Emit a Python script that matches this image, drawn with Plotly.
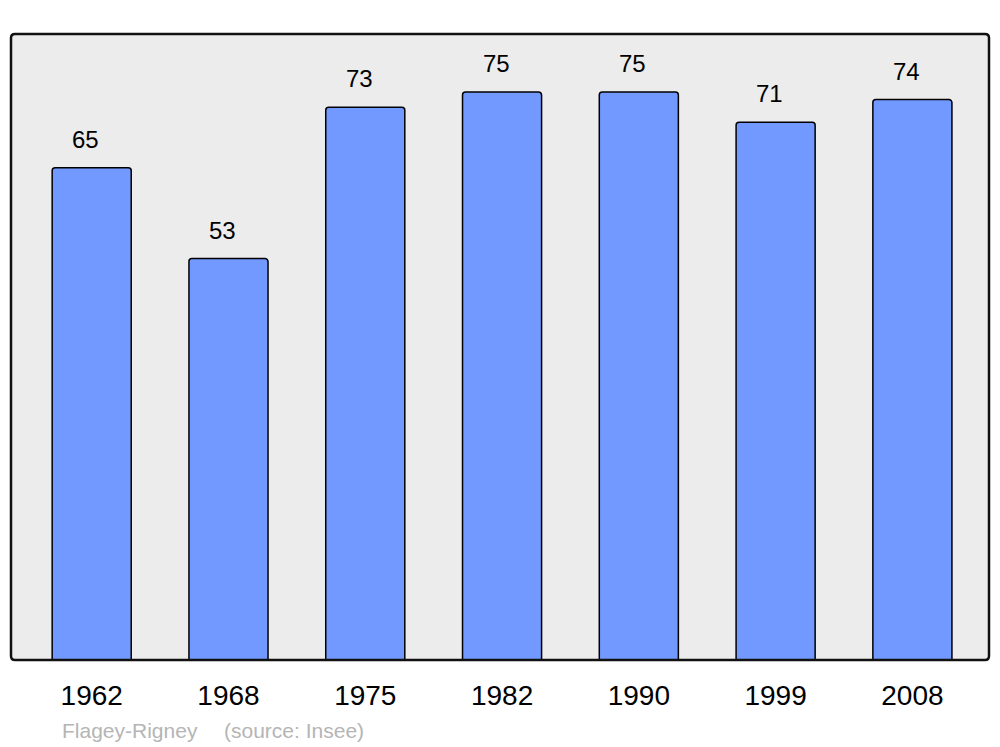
import plotly.graph_objects as go

# Population data (Insee)
annees = ["1962", "1968", "1975", "1982", "1990", "1999", "2008"]
population = [65, 53, 73, 75, 75, 71, 74]

x_pos = list(range(len(annees)))

# page body has an 8px margin, so the figure is sized/offset to compensate
W, H = 992, 739
ML, MR, MT, MB = 3, 11, 26, 87
plot_w = W - ML - MR
plot_h = H - MT - MB

fig = go.Figure()
fig.add_trace(go.Bar(
    x=x_pos,
    y=population,
    width=0.578,
    marker=dict(color="#7299ff", line=dict(color="#000000", width=1.5), cornerradius=3),
    hoverinfo="skip",
))

# Value labels above bars (slightly left of the bar centre, as in the original)
for xi, val in zip(x_pos, population):
    fig.add_annotation(x=xi, y=val, text=str(val), showarrow=False,
                       yanchor="bottom", yshift=13, xshift=-6,
                       font=dict(family="Liberation Sans, Arial", size=24, color="#000000"))

# Plot border with rounded corners
rx, ry = 4 / plot_w, 4 / plot_h
border = (f"M {rx},0 L {1 - rx},0 Q 1,0 1,{ry} L 1,{1 - ry} Q 1,1 {1 - rx},1 "
          f"L {rx},1 Q 0,1 0,{1 - ry} L 0,{ry} Q 0,0 {rx},0 Z")
fig.add_shape(type="path", xref="paper", yref="paper", path=border,
              line=dict(color="#111111", width=2.5), layer="above")

# Footer
fig.add_annotation(xref="paper", yref="paper", x=(60 - 11) / plot_w, y=-70 / plot_h,
                   text="Flagey-Rigney", showarrow=False, xanchor="left", yanchor="middle",
                   font=dict(family="Liberation Sans, Arial", size=21, color="#b5b5b5"))
fig.add_annotation(xref="paper", yref="paper", x=(222 - 11) / plot_w, y=-70 / plot_h,
                   text="(source: Insee)", showarrow=False, xanchor="left", yanchor="middle",
                   font=dict(family="Liberation Sans, Arial", size=21, color="#b5b5b5"))

fig.update_layout(
    width=W, height=H,
    margin=dict(l=ML, r=MR, t=MT, b=MB),
    paper_bgcolor="#ffffff",
    plot_bgcolor="#ececec",
    showlegend=False,
    xaxis=dict(range=[-0.59, 6.56], tickmode="array", tickvals=x_pos, ticktext=annees,
               showgrid=False, zeroline=False, ticks="", ticklabelstandoff=16,
               tickfont=dict(family="Liberation Sans, Arial", size=28, color="#000000")),
    yaxis=dict(range=[0, 82.66], showgrid=False, zeroline=False, showticklabels=False),
)

fig.write_html("out.html")
